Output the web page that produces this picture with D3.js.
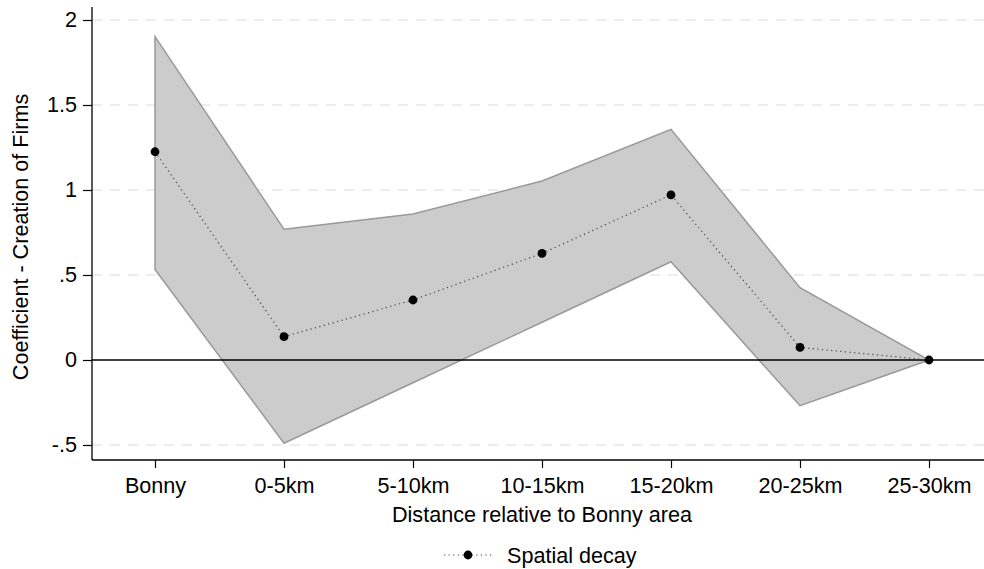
<!DOCTYPE html>
<html>
<head>
<meta charset="utf-8">
<script src="https://cdn.jsdelivr.net/npm/d3@7"></script>
<style>
  html, body { margin: 0; padding: 0; background: #fff; }
  svg { display: block; font-family: "Liberation Sans", Arial, sans-serif; }
</style>
</head>
<body>
<svg id="chart" width="984" height="569"></svg>
<script>
// Distance bands from the Bonny area
const categories = ["Bonny", "0-5km", "5-10km", "10-15km", "15-20km", "20-25km", "25-30km"];
// Point estimates: coefficient on creation of firms
const coefficients = [1.225, 0.137, 0.353, 0.627, 0.971, 0.074, 0.0];
// Confidence interval bounds
const upperCI = [1.902, 0.769, 0.859, 1.053, 1.357, 0.425, 0.0];
const lowerCI = [0.533, -0.490, -0.134, 0.222, 0.578, -0.269, 0.0];
// Y axis ticks and their labels
const yTicks = [-0.5, 0, 0.5, 1, 1.5, 2];
const yTickLabels = ["-.5", "0", ".5", "1", "1.5", "2"];

const svg = d3.select("#chart");
const plot = { left: 92, right: 984, top: 7, bottom: 460 };
const fontSize = 21.6;

const x = d3.scalePoint().domain(categories).range([155, 929]);
const y = d3.scaleLinear().domain([-0.5, 2]).range([445, 20]);

// Horizontal grid lines (dashed), zero line drawn separately
svg.append("g")
  .selectAll("line")
  .data(yTicks.filter(t => t !== 0))
  .join("line")
  .attr("x1", plot.left).attr("x2", plot.right)
  .attr("y1", d => y(d)).attr("y2", d => y(d))
  .attr("stroke", "#e8e8e8")
  .attr("stroke-width", 1.3)
  .attr("stroke-dasharray", "10,8");

// Confidence band
const bandPoints = categories.map((c, i) => [x(c), y(upperCI[i])])
  .concat(categories.map((c, i) => [x(c), y(lowerCI[i])]).reverse());
svg.append("path")
  .attr("d", d3.line()(bandPoints) + "Z")
  .attr("fill", "#cccccc")
  .attr("stroke", "#999999")
  .attr("stroke-width", 1.5)
  .attr("stroke-linejoin", "miter");

// Zero reference line
svg.append("line")
  .attr("x1", plot.left).attr("x2", plot.right)
  .attr("y1", y(0)).attr("y2", y(0))
  .attr("stroke", "#000")
  .attr("stroke-width", 1.6);

// Dotted connecting line through estimates
svg.append("path")
  .datum(coefficients)
  .attr("d", d3.line().x((d, i) => x(categories[i])).y(d => y(d)))
  .attr("fill", "none")
  .attr("stroke", "#444")
  .attr("stroke-width", 1.2)
  .attr("stroke-dasharray", "1.2,3.4");

// Estimate markers
svg.append("g")
  .selectAll("circle")
  .data(coefficients)
  .join("circle")
  .attr("cx", (d, i) => x(categories[i]))
  .attr("cy", d => y(d))
  .attr("r", 4.4)
  .attr("fill", "#000");

// Y axis
const yAxis = svg.append("g")
  .attr("transform", `translate(${plot.left},0)`)
  .call(d3.axisLeft(y).tickValues(yTicks).tickFormat((d, i) => yTickLabels[i])
    .tickSize(9).tickPadding(6).tickSizeOuter(0));
yAxis.select(".domain").remove();
yAxis.selectAll(".tick line").attr("stroke", "#000").attr("stroke-width", 1.2);
yAxis.selectAll(".tick text").attr("font-size", fontSize).attr("fill", "#000")
  .attr("font-family", "'Liberation Sans', Arial, sans-serif");
svg.append("line")
  .attr("x1", plot.left).attr("x2", plot.left).attr("y1", plot.top).attr("y2", plot.bottom)
  .attr("stroke", "#000").attr("stroke-width", 1.3);

// X axis
const xAxis = svg.append("g")
  .attr("transform", `translate(0,${plot.bottom})`)
  .call(d3.axisBottom(x).tickSize(8).tickPadding(10).tickSizeOuter(0));
xAxis.select(".domain").remove();
xAxis.selectAll(".tick line").attr("stroke", "#000").attr("stroke-width", 1.2);
xAxis.selectAll(".tick text").attr("font-size", fontSize).attr("fill", "#000")
  .attr("font-family", "'Liberation Sans', Arial, sans-serif");
svg.append("line")
  .attr("x1", plot.left).attr("x2", plot.right).attr("y1", plot.bottom).attr("y2", plot.bottom)
  .attr("stroke", "#000").attr("stroke-width", 1.3);

// Axis titles
svg.append("text")
  .attr("x", 542).attr("y", 522)
  .attr("text-anchor", "middle")
  .attr("font-size", fontSize)
  .text("Distance relative to Bonny area");

svg.append("text")
  .attr("transform", "translate(28,237) rotate(-90)")
  .attr("text-anchor", "middle")
  .attr("font-size", fontSize)
  .text("Coefficient - Creation of Firms");

// Legend
const legend = svg.append("g");
legend.append("line")
  .attr("x1", 444).attr("x2", 492).attr("y1", 555).attr("y2", 555)
  .attr("stroke", "#444").attr("stroke-width", 1.2)
  .attr("stroke-dasharray", "1.2,3.4");
legend.append("circle")
  .attr("cx", 468).attr("cy", 555).attr("r", 4.4).attr("fill", "#000");
legend.append("text")
  .attr("x", 507).attr("y", 563)
  .attr("font-size", fontSize)
  .text("Spatial decay");
</script>
</body>
</html>
